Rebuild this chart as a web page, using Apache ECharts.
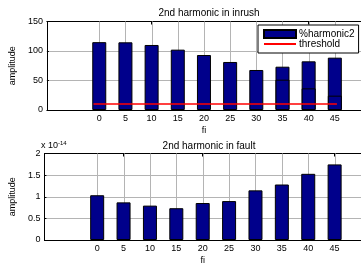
<!DOCTYPE html>
<html lang="en">
<head>
  <meta charset="UTF-8" />
  <title>2nd harmonic</title>
  <script src="https://cdn.jsdelivr.net/npm/echarts@6/dist/echarts.min.js"></script>
  <style>
    html, body { margin: 0; padding: 0; background: #fff; }
  </style>
</head>
<body>
  <div id="main" style="width: 361px;height:266px;"></div>
  <script type="text/javascript">
    // fi angles (x positions of the bars)
    var fi = [0, 5, 10, 15, 20, 25, 30, 35, 40, 45]
    // % of 2nd harmonic during inrush
    var inrush = [115, 114.7, 110.2, 102.3, 93.2, 81.4, 67.8, 73.4, 82.5, 88.7]
    // edges visible inside the last three inrush bars
    var inrushInner = [null, null, null, null, null, null, null, 51.4, 36.7, 24.3]
    // 2nd harmonic during fault, in units of 1e-14
    var fault = [1.035, 0.87, 0.795, 0.735, 0.855, 0.9, 1.148, 1.283, 1.53, 1.748]
    // threshold line end points
    var thresholdX = [-1.1, 45.4]
    var thresholdY = [10, 10]

    var font = 'Liberation Sans, Arial, sans-serif'
    var gray = '#b4b4b4'
    var navy = '#00008b'

    function pairs(xs, ys) {
      return xs.map(function (x, i) { return [x, ys[i]] })
    }

    // vertical grid lines at every fi tick, drawn behind the bars
    function vGrid(xi, yi) {
      return {
        type: 'custom', xAxisIndex: xi, yAxisIndex: yi, z: 1, silent: true,
        renderItem: function (params, api) {
          var cs = params.coordSys
          var x = Math.round(api.coord([api.value(0), 0])[0]) + 0.5
          return {
            type: 'line',
            shape: { x1: x, y1: cs.y, x2: x, y2: cs.y + cs.height },
            style: { stroke: gray, lineWidth: 1 }
          }
        },
        data: fi.map(function (v) { return [v] })
      }
    }

    function xBottom(g) {
      return {
        type: 'value', gridIndex: g, min: -10, max: 50, interval: 5,
        name: 'fi', nameLocation: 'middle', nameGap: 16,
        nameTextStyle: { fontSize: 9, fontFamily: font, color: '#000' },
        axisLine: { onZero: false, lineStyle: { color: '#000', width: 1 } },
        axisTick: { inside: true, length: 2, customValues: fi, lineStyle: { color: '#000' } },
        axisLabel: { fontSize: 9, fontFamily: font, color: '#000', margin: 4, customValues: fi },
        splitLine: { show: false }
      }
    }

    function xTop(g) {
      return {
        type: 'value', gridIndex: g, position: 'top', min: -10, max: 50, interval: 5,
        axisLine: { onZero: false, lineStyle: { color: '#000', width: 1 } },
        axisTick: { inside: true, length: 3, customValues: fi, lineStyle: { color: '#000' } },
        axisLabel: { show: false },
        splitLine: { show: false }
      }
    }

    function yLeft(g, max, interval) {
      return {
        type: 'value', gridIndex: g, min: 0, max: max, interval: interval,
        name: 'amplitude', nameLocation: 'middle', nameGap: 24,
        nameTextStyle: { fontSize: 9, fontFamily: font, color: '#000' },
        axisLine: { show: true, onZero: false, lineStyle: { color: '#000', width: 1 } },
        axisTick: { show: true, inside: true, length: 2, lineStyle: { color: '#000' } },
        axisLabel: { fontSize: 9, fontFamily: font, color: '#000', margin: 4 },
        splitLine: { show: true, lineStyle: { color: gray, width: 1 } }
      }
    }

    var myChart = echarts.init(document.getElementById('main'))

    var option = {
      animation: false,
      backgroundColor: '#fff',
      title: [
        { text: '2nd harmonic in inrush', left: 204, top: 3, textAlign: 'center',
          textStyle: { fontSize: 10, fontWeight: 'normal', fontFamily: font, color: '#000' } },
        { text: '2nd harmonic in fault', left: 204, top: 136, textAlign: 'center',
          textStyle: { fontSize: 10, fontWeight: 'normal', fontFamily: font, color: '#000' } }
      ],
      graphic: [{
        type: 'text', left: 41, top: 140,
        style: {
          text: 'x 10{sup|-14}', fontSize: 9, fontFamily: font, fill: '#000',
          rich: { sup: { fontSize: 6, verticalAlign: 'top', padding: [0, 0, 6, 0] } }
        }
      }],
      legend: {
        data: [
          { name: '%harmonic2', icon: 'rect' },
          { name: 'threshold', itemStyle: { color: 'rgba(0,0,0,0)', borderColor: 'rgba(0,0,0,0)', borderWidth: 0 } }
        ],
        orient: 'vertical', left: 258, top: 25, z: 10,
        padding: [4, 4, 4, 5], itemGap: 0, itemWidth: 32, itemHeight: 8,
        backgroundColor: '#fff', borderColor: '#000', borderWidth: 1, borderRadius: 0,
        textStyle: { fontSize: 10, lineHeight: 10, fontFamily: font, color: '#000', padding: [0, 0, 0, -2] }
      },
      grid: [
        { left: 42, top: 21.5, width: 321, height: 88.5 },
        { left: 42, top: 153.5, width: 321, height: 88.5 }
      ],
      xAxis: [xBottom(0), xTop(0), xBottom(1), xTop(1)],
      yAxis: [yLeft(0, 150, 50), yLeft(1, 2, 0.5)],
      series: [
        vGrid(0, 0),
        {
          name: '%harmonic2', type: 'bar', xAxisIndex: 0, yAxisIndex: 0, barWidth: 14, z: 2,
          itemStyle: { color: navy, borderColor: '#000', borderWidth: 1 },
          data: pairs(fi, inrush)
        },
        {
          name: 'inner', type: 'bar', xAxisIndex: 0, yAxisIndex: 0, barWidth: 14, barGap: '-100%', z: 2,
          itemStyle: { color: navy, borderColor: '#000', borderWidth: 1 },
          data: pairs(fi, inrushInner)
        },
        {
          name: 'threshold', type: 'line', xAxisIndex: 0, yAxisIndex: 0, z: 3,
          symbol: 'none', lineStyle: { color: '#ff0000', width: 1.5 },
          itemStyle: { color: '#ff0000' },
          data: pairs(thresholdX, thresholdY)
        },
        vGrid(2, 1),
        {
          name: 'fault', type: 'bar', xAxisIndex: 2, yAxisIndex: 1, barWidth: 14, z: 2,
          itemStyle: { color: navy, borderColor: '#000', borderWidth: 1 },
          data: pairs(fi, fault)
        }
      ]
    }

    myChart.setOption(option)
  </script>
</body>
</html>
